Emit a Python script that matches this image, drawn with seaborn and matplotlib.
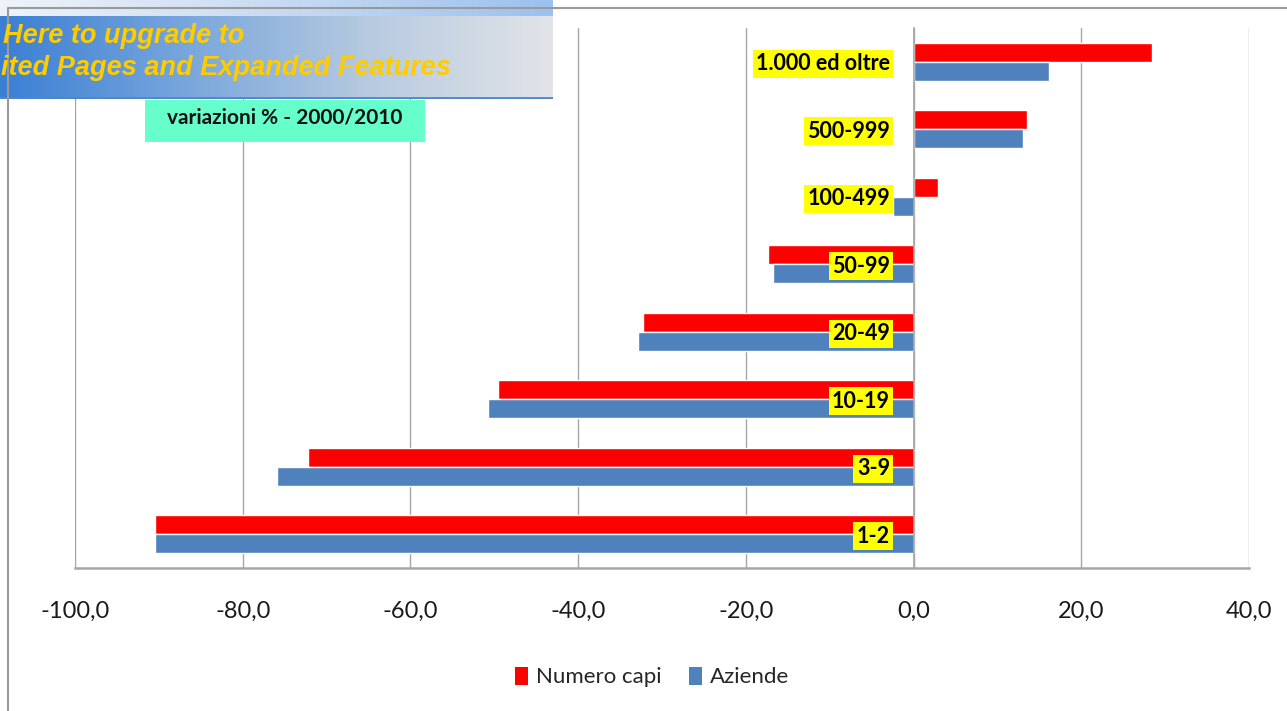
import numpy as np
import pandas as pd
import matplotlib
matplotlib.use("Agg")
import matplotlib.pyplot as plt
import seaborn as sns
from matplotlib.patches import Rectangle, Patch
from matplotlib.lines import Line2D
from matplotlib.colors import LinearSegmentedColormap

# ---- data ----
categories = ["1.000 ed oltre", "500-999", "100-499", "50-99", "20-49", "10-19", "3-9", "1-2"]
numero_capi = [28.4, 13.5, 2.9, -17.3, -32.3, -49.5, -72.2, -90.5]
aziende = [16.1, 13.0, -2.4, -16.8, -32.9, -50.7, -75.9, -90.5]
series = ["Numero capi", "Aziende"]
xticks = [-100, -80, -60, -40, -20, 0, 20, 40]
xtick_labels = ["-100,0", "-80,0", "-60,0", "-40,0", "-20,0", "0,0", "20,0", "40,0"]
title_text = "variazioni % - 2000/2010"
banner_line1 = "Here to upgrade to"
banner_line2 = "ited Pages and Expanded Features"

df = pd.DataFrame({
    "Classe": categories * 2,
    "Serie": [series[0]] * len(categories) + [series[1]] * len(categories),
    "Valore": numero_capi + aziende,
})

sns.set_style("white")
plt.rcParams["font.family"] = ["Lato", "DejaVu Sans"]

W, H = 1287, 711
fig = plt.figure(figsize=(W / 100, H / 100), dpi=100)
fig.patch.set_facecolor("white")

colors = ["#FF0000", "#4F81BD"]
grid_c = "#A6A6A6"

ax = fig.add_axes([75 / W, 1 - 568 / H, 1174 / W, 540 / H])
sns.barplot(data=df, y="Classe", x="Valore", hue="Serie", order=categories,
            hue_order=series, palette=colors, width=0.56, gap=0, orient="h",
            saturation=1, legend=False, ax=ax)

ax.set_xlim(-100, 40)
ax.set_ylim(len(categories) - 0.5, -0.5)
ax.set_xticks(xticks)
ax.set_xticklabels(xtick_labels, fontsize=17, color="#1a1a1a")
ax.xaxis.grid(True, color=grid_c, lw=1)
ax.yaxis.grid(False)
ax.set_axisbelow(True)
ax.yaxis.set_zorder(5)
ax.set_xlabel("")
ax.set_ylabel("")

for s in ["top", "right"]:
    ax.spines[s].set_visible(False)
ax.spines["bottom"].set_color(grid_c)
ax.spines["bottom"].set_linewidth(1.8)
ax.spines["left"].set_position(("data", 0))
ax.spines["left"].set_color(grid_c)
ax.spines["left"].set_linewidth(1.2)

ax.set_yticks(range(len(categories)))
ax.set_yticklabels(categories, fontsize=15.5, fontweight="bold", color="black")
for lbl in ax.get_yticklabels():
    lbl.set_bbox(dict(facecolor="#FFFF00", edgecolor="none", pad=2.5))
ax.tick_params(axis="y", which="major", length=0, pad=17)
ax.set_yticks(np.arange(-0.5, len(categories), 1), minor=True)
ax.tick_params(axis="y", which="minor", length=6, color=grid_c, direction="out", width=1)
ax.tick_params(axis="x", length=4, color=grid_c, pad=20)

# legend
handles = [Patch(facecolor=c, edgecolor="none") for c in colors]
fig.legend(handles, series, loc="center", bbox_to_anchor=(652 / W, 1 - 677 / H), ncol=2,
           frameon=False, fontsize=16, handlelength=0.6, handleheight=0.9,
           handletextpad=0.35, columnspacing=1.2)

# chart area border
fig.add_artist(Line2D([8 / W, 8 / W], [0, 1 - 8 / H], transform=fig.transFigure,
                      color="#9a9a9a", lw=1.5))
fig.add_artist(Line2D([8 / W, 1], [1 - 8 / H, 1 - 8 / H], transform=fig.transFigure,
                      color="#9a9a9a", lw=1.5))

# title box
fig.add_artist(Rectangle((145 / W, 1 - 142 / H), 280 / W, 42 / H, transform=fig.transFigure,
                         facecolor="#66FFCC", edgecolor="none"))
fig.text(285 / W, 1 - 118 / H, title_text, ha="center", va="center", fontsize=15,
         fontweight="bold", color="#111111")

# watermark banner
grad = np.linspace(0, 1, 256).reshape(1, -1)
cmap_main = LinearSegmentedColormap.from_list("m", ["#3A7FD4", "#78A6DC", "#B7CAE0", "#E2E4E8"])
bax = fig.add_axes([0, 1 - 99 / H, 553 / W, 83 / H])
bax.imshow(grad, aspect="auto", cmap=cmap_main, extent=[0, 1, 0, 1])
bax.axhline(0.01, color="#4F86CC", lw=2)
bax.axis("off")
cmap_top = LinearSegmentedColormap.from_list("t", ["#EEF3FA", "#C9DBF2", "#9CC1EE"])
tax = fig.add_axes([0, 1 - 16 / H, 553 / W, 16 / H])
tax.imshow(grad, aspect="auto", cmap=cmap_top, extent=[0, 1, 0, 1])
tax.axis("off")

fig.text(3 / W, 1 - 36 / H, banner_line1, ha="left", va="center", fontsize=19.5,
         fontweight="bold", style="italic", color="#FFCC00", family=["Liberation Sans"])
fig.text(1 / W, 1 - 68 / H, banner_line2, ha="left", va="center", fontsize=19.5,
         fontweight="bold", style="italic", color="#FFCC00", family=["Liberation Sans"])

fig.savefig("out.png", dpi=100)
